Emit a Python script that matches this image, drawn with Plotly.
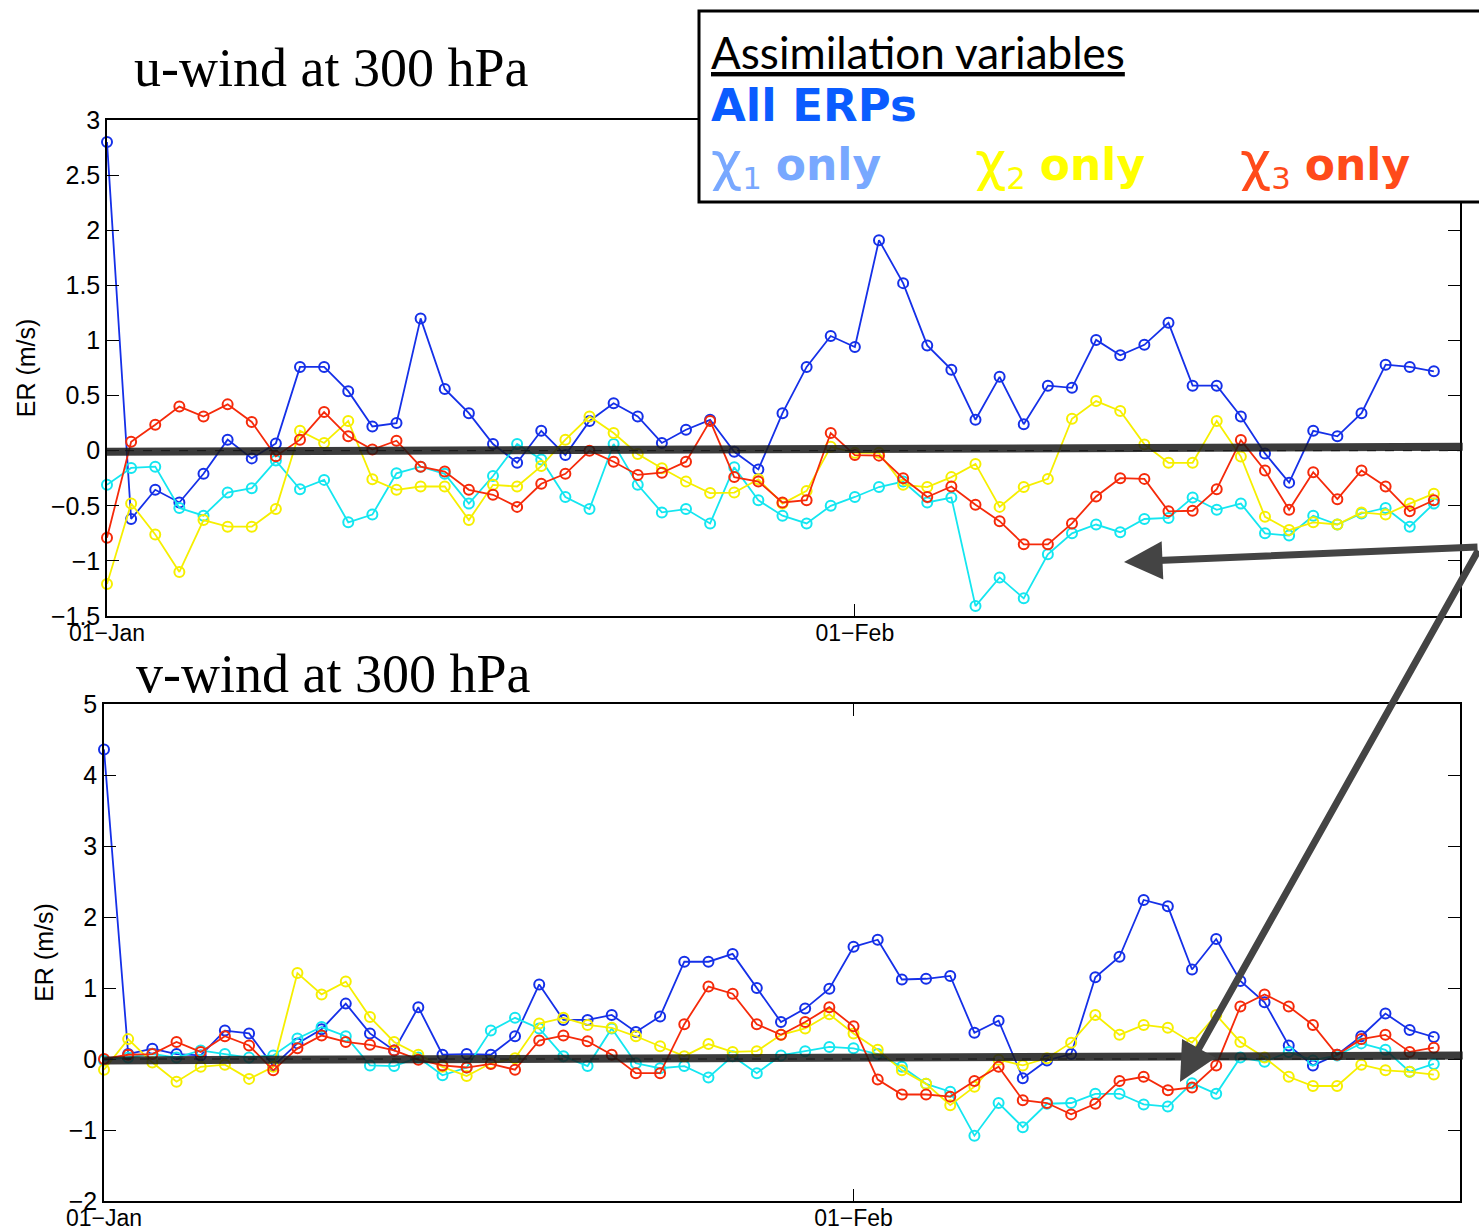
import pandas as pd
import plotly.graph_objects as go

# ---------------- data ----------------
dates = pd.date_range("2000-01-01", periods=56, freq="D")

u_all = [2.80, -0.62, -0.355, -0.47, -0.21, 0.10, -0.07, 0.066, 0.76, 0.76, 0.54, 0.22, 0.25, 1.20,
         0.56, 0.34, 0.06, -0.11, 0.18, -0.04, 0.27, 0.43, 0.31, 0.07, 0.19, 0.28, -0.01, -0.17,
         0.34, 0.76, 1.04, 0.94, 1.91, 1.52, 0.955, 0.735, 0.28, 0.67, 0.24, 0.59, 0.57, 1.005,
         0.865, 0.96, 1.16, 0.59, 0.59, 0.31, -0.025, -0.29, 0.18, 0.13, 0.34, 0.78, 0.76, 0.72]
u_x1 = [-0.31, -0.157, -0.145, -0.52, -0.59, -0.38, -0.34, -0.09, -0.35, -0.265, -0.65, -0.58,
        -0.205, -0.145, -0.21, -0.48, -0.23, 0.06, -0.08, -0.42, -0.53, 0.06, -0.31, -0.56, -0.53,
        -0.66, -0.15, -0.45, -0.59, -0.66, -0.50, -0.42, -0.33, -0.28, -0.47, -0.425, -1.41, -1.15,
        -1.34, -0.94, -0.75, -0.67, -0.74, -0.62, -0.61, -0.425, -0.536, -0.48, -0.75, -0.77,
        -0.59, -0.67, -0.57, -0.52, -0.69, -0.48]
u_x2 = [-1.21, -0.48, -0.76, -1.10, -0.63, -0.69, -0.69, -0.53, 0.18, 0.07, 0.27, -0.26, -0.355,
        -0.325, -0.325, -0.63, -0.31, -0.325, -0.14, 0.10, 0.31, 0.16, -0.03, -0.16, -0.28, -0.385,
        -0.38, -0.26, -0.48, -0.365, 0.036, -0.02, -0.02, -0.31, -0.33, -0.24, -0.12, -0.51, -0.33,
        -0.256, 0.29, 0.45, 0.36, 0.057, -0.11, -0.11, 0.27, -0.054, -0.60, -0.72, -0.65, -0.67,
        -0.56, -0.58, -0.48, -0.39]
u_x3 = [-0.79, 0.08, 0.235, 0.40, 0.31, 0.42, 0.26, -0.05, 0.10, 0.35, 0.13, 0.01, 0.09, -0.145,
        -0.19, -0.355, -0.40, -0.51, -0.30, -0.21, 0.0, -0.10, -0.22, -0.20, -0.10, 0.27, -0.24,
        -0.28, -0.47, -0.45, 0.16, -0.04, -0.045, -0.25, -0.42, -0.325, -0.49, -0.64, -0.85, -0.85,
        -0.66, -0.415, -0.25, -0.256, -0.55, -0.545, -0.35, 0.096, -0.18, -0.536, -0.196, -0.44,
        -0.18, -0.325, -0.55, -0.45]

v_all = [4.36, 0.07, 0.145, 0.07, 0.05, 0.40, 0.36, -0.10, 0.22, 0.42, 0.78, 0.36, 0.12, 0.73,
         0.06, 0.07, 0.06, 0.32, 1.05, 0.55, 0.55, 0.62, 0.38, 0.60, 1.37, 1.37, 1.48, 1.00, 0.52,
         0.71, 0.99, 1.58, 1.68, 1.12, 1.13, 1.17, 0.37, 0.54, -0.27, -0.02, 0.07, 1.15, 1.44, 2.24,
         2.15, 1.26, 1.69, 1.10, 0.80, 0.19, -0.09, 0.06, 0.32, 0.64, 0.41, 0.31]
v_x1 = [-0.02, 0.02, 0.07, 0.02, 0.12, 0.07, 0.02, 0.05, 0.29, 0.45, 0.32, -0.09, -0.10, 0.02,
        -0.23, -0.12, 0.40, 0.58, 0.43, 0.04, -0.10, 0.43, -0.06, -0.13, -0.10, -0.26, 0.04, -0.20,
        0.05, 0.11, 0.17, 0.15, 0.07, -0.11, -0.35, -0.46, -1.08, -0.62, -0.96, -0.63, -0.62, -0.49,
        -0.49, -0.64, -0.67, -0.34, -0.49, 0.02, -0.04, 0.10, -0.02, 0.05, 0.22, 0.13, -0.18, -0.07]
v_x2 = [-0.15, 0.28, -0.05, -0.32, -0.11, -0.08, -0.28, -0.11, 1.21, 0.91, 1.09, 0.59, 0.24, 0.06,
        -0.11, -0.24, -0.06, 0.01, 0.50, 0.58, 0.48, 0.44, 0.32, 0.18, 0.04, 0.21, 0.10, 0.11, 0.34,
        0.43, 0.63, 0.36, 0.13, -0.16, -0.35, -0.65, -0.39, -0.01, -0.09, 0.01, 0.23, 0.62, 0.34,
        0.48, 0.44, 0.23, 0.62, 0.24, 0.02, -0.25, -0.38, -0.38, -0.08, -0.16, -0.18, -0.22]
v_x3 = [0.0, 0.06, 0.07, 0.24, 0.10, 0.32, 0.19, -0.16, 0.15, 0.33, 0.24, 0.20, 0.12, -0.01, -0.09,
        -0.12, -0.07, -0.15, 0.26, 0.33, 0.25, 0.06, -0.20, -0.20, 0.49, 1.02, 0.92, 0.49, 0.34,
        0.52, 0.73, 0.46, -0.29, -0.50, -0.50, -0.53, -0.31, -0.11, -0.58, -0.62, -0.78, -0.63,
        -0.31, -0.25, -0.44, -0.40, -0.09, 0.74, 0.91, 0.74, 0.48, 0.06, 0.28, 0.34, 0.10, 0.16]

u_ticks = [-1.5, -1, -0.5, 0, 0.5, 1, 1.5, 2, 2.5, 3]
v_ticks = [-2, -1, 0, 1, 2, 3, 4, 5]
x_tickvals = ["2000-01-01", "2000-02-01"]
x_ticktext = ["01\u2212Jan", "01\u2212Feb"]
x_range = ["2000-01-01", "2000-02-26 02:00"]

series_colors = {"all": "#1530e8", "x1": "#14e6f0", "x2": "#f6ef00", "x3": "#f52a0a"}

W, H = 1479, 1232


def px_x(p):
    return p / W


def px_y(p):
    return 1 - p / H


def fmt(v):
    s = ("%g" % v)
    return s.replace("-", "\u2212")


fig = go.Figure()

panels = [
    ("x", "y", [u_all, u_x1, u_x2, u_x3]),
    ("x2", "y2", [v_all, v_x1, v_x2, v_x3]),
]
for xa, ya, sers in panels:
    for key, vals in zip(["all", "x1", "x2", "x3"], sers):
        fig.add_trace(go.Scatter(
            x=dates, y=vals, xaxis=xa, yaxis=ya, mode="lines+markers",
            line=dict(color=series_colors[key], width=1.8),
            marker=dict(symbol="circle-open", size=10, color=series_colors[key],
                        line=dict(width=2, color=series_colors[key])),
            cliponaxis=False, showlegend=False, hoverinfo="skip"))

tick_font_family = "Liberation Sans, Arial, sans-serif"
axis_common = dict(showline=True, linecolor="black", linewidth=1.5, mirror="allticks",
                   ticks="inside", ticklen=12, tickwidth=1.2, tickcolor="black",
                   showgrid=False, zeroline=False, automargin=False)
x_extra = dict(tickfont=dict(family=tick_font_family, size=23, color="black"),
               ticklabelstandoff=-4)
y_extra = dict(tickfont=dict(family=tick_font_family, size=25, color="black"))
ytitle = dict(text="ER (m/s)", font=dict(family=tick_font_family, size=25, color="black"),
              standoff=8)

fig.update_layout(
    width=W, height=H, margin=dict(l=0, r=0, t=0, b=0),
    paper_bgcolor="white", plot_bgcolor="white",
    xaxis=dict(domain=[px_x(107), px_x(1460)], anchor="y", type="date", range=x_range,
               tickvals=x_tickvals, ticktext=x_ticktext, **axis_common, **x_extra),
    yaxis=dict(domain=[px_y(616), px_y(120)], anchor="x", range=[-1.5, 3],
               tickvals=u_ticks, ticktext=[fmt(v) for v in u_ticks], title=ytitle,
               **axis_common, **y_extra),
    xaxis2=dict(domain=[px_x(104), px_x(1460)], anchor="y2", type="date", range=x_range,
                tickvals=x_tickvals, ticktext=x_ticktext, **axis_common, **x_extra),
    yaxis2=dict(domain=[px_y(1201), px_y(704)], anchor="x2", range=[-2, 5],
                tickvals=v_ticks, ticktext=[fmt(v) for v in v_ticks], title=ytitle,
                **axis_common, **y_extra),
)

shapes = []
# zero reference lines (dashed thin + thick hand-drawn overlay)
for xr, yr, y0, y1 in [("x", "y", -0.01, 0.035), ("x2", "y2", -0.02, 0.05)]:
    shapes.append(dict(type="line", xref=xr + " domain", yref=yr, x0=0, x1=1, y0=0, y1=0,
                       line=dict(color="black", width=1, dash="dash"), layer="above"))
    shapes.append(dict(type="line", xref=xr + " domain", yref=yr, x0=0, x1=1.002, y0=y0, y1=y1,
                       line=dict(color="rgba(25,25,25,0.85)", width=8), layer="above"))
# legend box
shapes.append(dict(type="rect", xref="paper", yref="paper", x0=px_x(699), x1=1.01,
                   y0=px_y(202), y1=px_y(11), fillcolor="white",
                   line=dict(color="black", width=3), layer="above"))
fig.update_layout(shapes=shapes)

ann = []
title_font = dict(family="Liberation Serif, Times New Roman, serif", size=54, color="black")
ann.append(dict(text="u-wind at 300 hPa", x=px_x(132), y=px_y(68), xref="paper", yref="paper",
                xanchor="left", yanchor="middle", showarrow=False, font=title_font))
ann.append(dict(text="v-wind at 300 hPa", x=px_x(134), y=px_y(674), xref="paper", yref="paper",
                xanchor="left", yanchor="middle", showarrow=False, font=title_font))

leg_font = "Lato, Open Sans, sans-serif"
bold_font = "DejaVu Sans, Verdana, sans-serif"
ann.append(dict(text="<u>Assimilation variables</u>", x=px_x(709), y=px_y(52), xref="paper",
                yref="paper", xanchor="left", yanchor="middle", showarrow=False,
                font=dict(family=leg_font, size=44, color="black")))
ann.append(dict(text="<b>All ERPs</b>", x=px_x(709), y=px_y(106), xref="paper", yref="paper",
                xanchor="left", yanchor="middle", showarrow=False,
                font=dict(family=bold_font, size=45, color="#0a5cff")))
for label, xpos, col in [("1", 709, "#78a8ff"), ("2", 973, "#ffff00"), ("3", 1238, "#ff4a1a")]:
    ann.append(dict(text="<span style='font-size:54px'>\u03c7</span><sub>" + label +
                         "</sub> <b>only</b>",
                    x=px_x(xpos), y=px_y(163),
                    xref="paper", yref="paper", xanchor="left", yanchor="middle",
                    showarrow=False, font=dict(family=bold_font, size=44, color=col)))

# pointer arrows
for hx, hy, tx, ty in [(1124, 562, 1500, 547), (1180, 1082, 1500, 549)]:
    ann.append(dict(text="", x=px_x(hx), y=px_y(hy), xref="paper", yref="paper",
                    showarrow=True, axref="pixel", ayref="pixel", ax=tx - hx, ay=ty - hy,
                    arrowhead=2, arrowsize=1.1, arrowwidth=7, arrowcolor="#444444",
                    standoff=0))
fig.update_layout(annotations=ann)

fig.write_html("out.html")
